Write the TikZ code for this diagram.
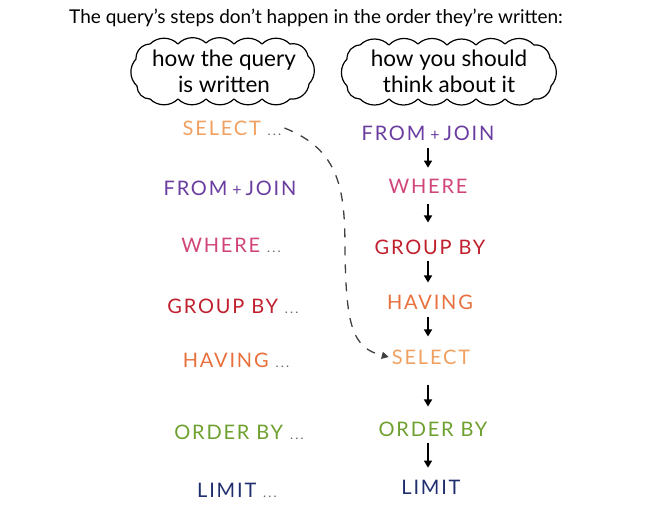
\documentclass[tikz,border=0pt]{standalone}
\usepackage{fontspec}
\setmainfont{Lato}
\newfontfamily\handfont[LetterSpace=9]{Lato}
\usetikzlibrary{arrows.meta}
\definecolor{selectc}{HTML}{F0A060}
\definecolor{fromc}{HTML}{6A3CA0}
\definecolor{wherec}{HTML}{D0457A}
\definecolor{groupc}{HTML}{C0202E}
\definecolor{havingc}{HTML}{E8703C}
\definecolor{orderc}{HTML}{6EA030}
\definecolor{limitc}{HTML}{1F2F6E}
\newcommand{\etc}{\ {\color{black!60}\fontsize{13}{13}\selectfont.\,.\,.}}
\newcommand{\fromjoin}{FROM\hspace{5pt}{\fontsize{16}{16}\selectfont+}\hspace{4pt}JOIN}
\tikzset{
  clause/.style={font=\handfont\fontsize{20}{22}\selectfont, inner sep=3pt},
  cloudline/.style={line width=1.2pt, line join=round},
  bubbletext/.style={align=center, font=\fontsize{22.5}{26}\selectfont, inner sep=0pt},
  flow/.style={-{Triangle[length=7pt,width=8pt]}, line width=1.5pt},
}
\begin{document}
\begin{tikzpicture}[x=1pt, y=-1pt]
\useasboundingbox (0,0) rectangle (645,515);
\node (title) at (316,18) {\fontsize{19}{19}\selectfont The query's steps don't happen in the order they're written:};
% the two thought clouds
\node[bubbletext] (written) at (224,71) {how the query\\is written};
\draw[cloudline] (150,44) \foreach \x/\y in {178/44,206/43,234/44,262/44,290/44,308/56,309/84,
    290/99,262/99,234/99,206/99,178/99,150/99,137/86,136/59,150/44}
  { to[bend left=45] (\x,\y) };
\node[bubbletext] (think) at (449,71) {how you should\\think about it};
\draw[cloudline] (360,45) \foreach \x/\y in {389/45,418/44,447/45,476/45,505/44,534/45,550/58,551/86,
    534/99,505/99,476/99,447/99,418/99,389/99,360/99,347/86,347/59,360/45}
  { to[bend left=45] (\x,\y) };
% written order (left)
\node[clause, text=selectc] (wselect) at (232,128) {SELECT\etc};
\node[clause, text=fromc]   (wfrom)   at (230,188) {\fromjoin};
\node[clause, text=wherec]  (wwhere)  at (231,245) {WHERE\etc};
\node[clause, text=groupc]  (wgroup)  at (233,306) {GROUP BY\etc};
\node[clause, text=havingc] (whaving) at (236,360) {HAVING\etc};
\node[clause, text=orderc]  (worder)  at (239,432) {ORDER BY\etc};
\node[clause, text=limitc]  (wlimit)  at (237,490) {LIMIT\etc};
% run order (right)
\node[clause, text=fromc]   (tfrom)   at (428,133) {\fromjoin};
\node[clause, text=wherec]  (twhere)  at (428,186) {WHERE};
\node[clause, text=groupc]  (tgroup)  at (430,247) {GROUP BY};
\node[clause, text=havingc] (thaving) at (430,302) {HAVING};
\node[clause, text=selectc] (tselect) at (431,357) {SELECT};
\node[clause, text=orderc]  (torder)  at (433,429) {ORDER BY};
\node[clause, text=limitc]  (tlimit)  at (431,487) {LIMIT};
\foreach \a/\b/\s/\e in {tfrom/twhere/4/8, twhere/tgroup/8/14, tgroup/thaving/3/9,
    thaving/tselect/4/10, tselect/torder/17/12, torder/tlimit/3/9}
  \draw[flow, shorten <=\s pt, shorten >=\e pt] (\a.south -| 428,0) -- (\b.north -| 428,0);
% SELECT moves down
\draw[black!75, line width=1.3pt, dash pattern=on 9pt off 9pt, -{Triangle[length=7pt,width=7pt]}]
  (wselect.east) .. controls (340,150) and (345,190) .. (345,250)
  .. controls (346,325) and (352,348) .. (tselect.west);
\end{tikzpicture}
\end{document}
